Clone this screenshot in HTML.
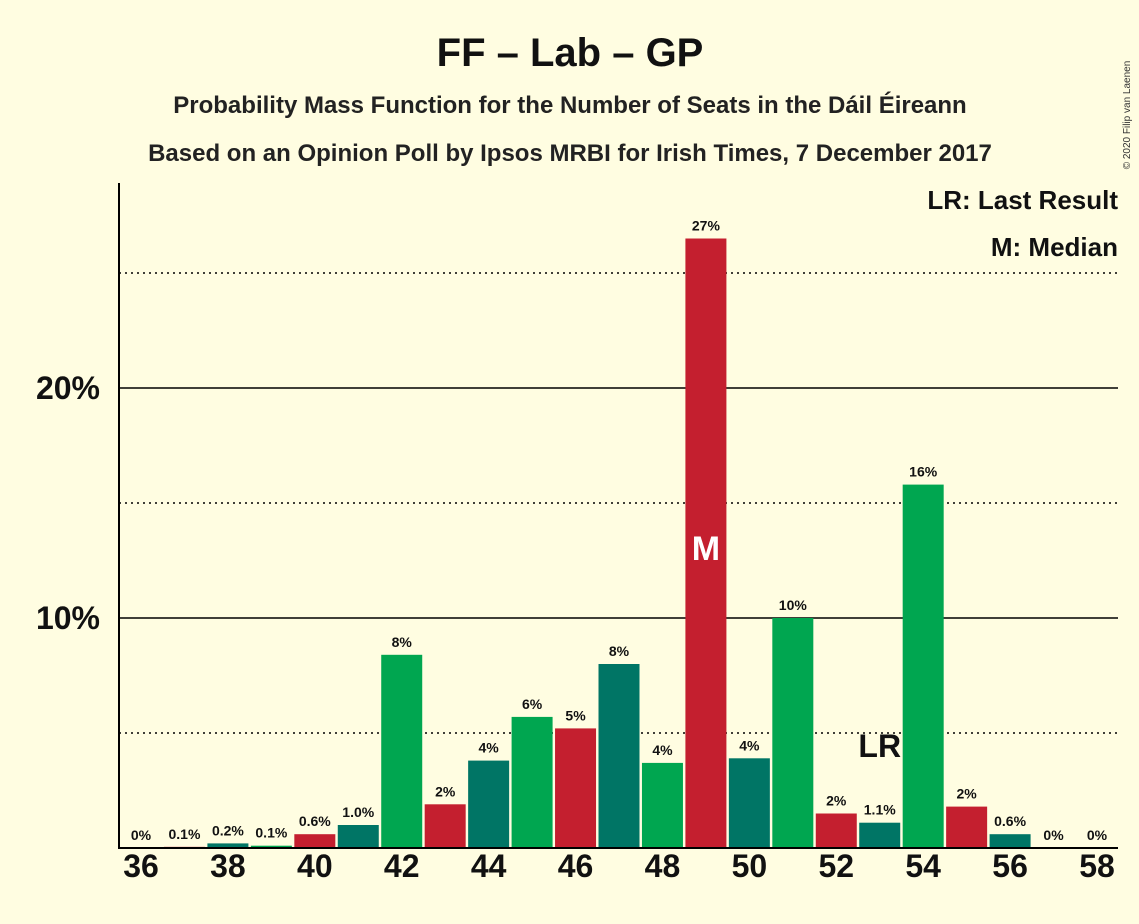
<!DOCTYPE html>
<html><head><meta charset="utf-8"><style>
body{margin:0;background:#fffde1;}
svg{display:block;font-family:"Liberation Sans","DejaVu Sans",sans-serif;font-weight:bold;}
</style></head><body>
<svg id="chart" width="1139" height="924">
<rect width="1139" height="924" fill="#fffde1"/>
<text x="570" y="66" text-anchor="middle" font-size="40" fill="#111">FF – Lab – GP</text>
<text x="570" y="113" text-anchor="middle" font-size="24" fill="#222">Probability Mass Function for the Number of Seats in the Dáil Éireann</text>
<text x="570" y="161" text-anchor="middle" font-size="24" fill="#222">Based on an Opinion Poll by Ipsos MRBI for Irish Times, 7 December 2017</text>
<text x="1130" y="115" font-size="10" font-weight="normal" fill="#333" transform="rotate(-90 1130 115)" text-anchor="middle">© 2020 Filip van Laenen</text>
<text x="1118" y="209" text-anchor="end" font-size="26" fill="#111">LR: Last Result</text>
<text x="1118" y="256" text-anchor="end" font-size="26" fill="#111">M: Median</text>
<g id="grid"></g><g id="bars"></g><g id="labels"></g>
<line x1="119" y1="183" x2="119" y2="849" stroke="#000" stroke-width="2"/>
<line x1="118" y1="848" x2="1118" y2="848" stroke="#000" stroke-width="2"/>
</svg>
<script>
const seats=[36,37,38,39,40,41,42,43,44,45,46,47,48,49,50,51,52,53,54,55,56,57,58];
const probs=[0,0.05,0.2,0.1,0.6,1.0,8.4,1.9,3.8,5.7,5.2,8.0,3.7,26.5,3.9,10.0,1.5,1.1,15.8,1.8,0.6,0,0];
const valueLabels=["0%","0.1%","0.2%","0.1%","0.6%","1.0%","8%","2%","4%","6%","5%","8%","4%","27%","4%","10%","2%","1.1%","16%","2%","0.6%","0%","0%"];
const xTicks=[36,38,40,42,44,46,48,50,52,54,56,58];
const yTicks=[10,20];
const yMinor=[5,15,25];
const medianSeat=49, lastResultSeat=53;
const NS="http://www.w3.org/2000/svg";
const X=s=>141+(s-36)*(1097-141)/22;
const Y=v=>848-v*23;
const colors=["#00a650","#c41f2f","#007565"];
function mk(t,a,p){const e=document.createElementNS(NS,t);for(const k in a)e.setAttribute(k,a[k]);p.appendChild(e);return e;}
const grid=document.getElementById('grid'),bars=document.getElementById('bars'),labels=document.getElementById('labels');
yMinor.forEach(v=>{const l=mk('line',{x1:119,x2:1118,y1:Y(v),y2:Y(v),stroke:'#000','stroke-width':1.5,'stroke-dasharray':'2,4'},grid);

});
yTicks.forEach(v=>{const l=mk('line',{x1:119,x2:1118,y1:Y(v),y2:Y(v),stroke:'#000','stroke-width':1.5},grid);


const t=mk('text',{x:100,y:Y(v)+11,'text-anchor':'end','font-size':32,fill:'#111'},labels);t.textContent=v+'%';

});
xTicks.forEach(s=>{const t=mk('text',{x:X(s),y:877,'text-anchor':'middle','font-size':32,fill:'#111'},labels);t.textContent=s;

});
seats.forEach((s,i)=>{const v=probs[i];
if(v>0){const r=mk('rect',{x:X(s)-20.5,y:Y(v),width:41,height:848-Y(v),fill:colors[s%3]},bars);

}
const t=mk('text',{x:X(s),y:Y(v)-8,'text-anchor':'middle','font-size':14,fill:'#111'},labels);t.textContent=valueLabels[i];

});
const mi=seats.indexOf(medianSeat);
const m=mk('text',{x:X(medianSeat),y:560,'text-anchor':'middle','font-size':34,fill:'#fff'},labels);m.textContent='M';


const lr=mk('text',{x:X(lastResultSeat),y:757,'text-anchor':'middle','font-size':32,fill:'#111'},labels);lr.textContent='LR';


</script>
</body></html>
